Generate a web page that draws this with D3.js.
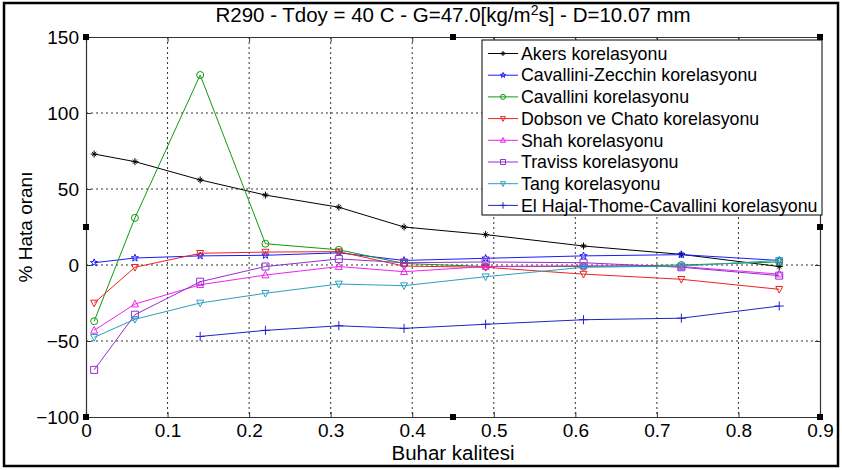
<!DOCTYPE html>
<html>
<head>
<meta charset="utf-8">
<script src="https://cdn.jsdelivr.net/npm/d3@7"></script>
<style>
  body { margin: 0; background: #fff; }
  text { font-family: "Liberation Sans", Arial, sans-serif; fill: #000; }
</style>
</head>
<body>
<svg id="chart" width="842" height="470"></svg>
<script>
// data
var quality = [0.01, 0.06, 0.14, 0.22, 0.31, 0.39, 0.49, 0.61, 0.73, 0.85];
var akers = [73, 68, 56, 46, 38, 25, 20, 12.5, 7, -1];
var cavZecchin = [1.5, 4.6, 6, 6.4, 8, 3, 4.4, 6, 6.8, 3];
var cavallini = [-37, 31, 125, 14, 10, 1, -1, -1, 0, 2];
var dobsonChato = [-25, -1.5, 7.7, 8.5, 8.8, -0.7, -1.5, -6, -9.4, -16];
var shah = [-43, -25.7, -13, -6.6, -1, -4.4, -1, -0.5, -1, -6];
var traviss = [-69, -32.7, -11, -1, 4, 1.5, 2, 1.5, -1.5, -7];
var tang = [-47.6, -35.7, -25, -18.6, -12.5, -13.6, -7.7, -1.5, -0.7, 3];
var elHajal = [null, null, -47, -43, -40, -41.7, -39, -36, -35, -27];

var xTicks = [0, 0.1, 0.2, 0.3, 0.4, 0.5, 0.6, 0.7, 0.8, 0.9];
var yTicks = [-100, -50, 0, 50, 100, 150];

var series = [
  {name: 'Akers korelasyonu', values: akers, color: '#000000', marker: 'plus'},
  {name: 'Cavallini-Zecchin korelasyonu', values: cavZecchin, color: '#1a1aff', marker: 'star'},
  {name: 'Cavallini korelasyonu', values: cavallini, color: '#119911', marker: 'circle'},
  {name: 'Dobson ve Chato korelasyonu', values: dobsonChato, color: '#ee2222', marker: 'tridown'},
  {name: 'Shah korelasyonu', values: shah, color: '#ee22ee', marker: 'triup'},
  {name: 'Traviss korelasyonu', values: traviss, color: '#9030d0', marker: 'square'},
  {name: 'Tang korelasyonu', values: tang, color: '#2a9fc0', marker: 'tridown'},
  {name: 'El Hajal-Thome-Cavallini korelasyonu', values: elHajal, color: '#2222cc', marker: 'bigplus'}
];

var margin = {top: 37, right: 22, bottom: 53, left: 86},
  width = 842 - margin.left - margin.right,
  height = 470 - margin.top - margin.bottom;

var svg = d3.select('#chart');

// figure frame
svg.append('rect')
  .attr('x', 4).attr('y', 3).attr('width', 834).attr('height', 463)
  .attr('fill', 'none').attr('stroke', '#000').attr('stroke-width', 2.5);

var x = d3.scaleLinear().domain([0, 0.9]).range([0, width]);
var y = d3.scaleLinear().domain([-100, 150]).range([height, 0]);

var g = svg.append('g')
  .attr('transform', 'translate(' + margin.left + ',' + margin.top + ')');

// dotted grid
g.append('g').selectAll('line')
  .data(xTicks.slice(1, -1))
  .enter().append('line')
  .attr('x1', d => x(d)).attr('x2', d => x(d))
  .attr('y1', 0).attr('y2', height)
  .attr('stroke', '#333').attr('stroke-dasharray', '2,3');
g.append('g').selectAll('line')
  .data(yTicks.slice(1, -1))
  .enter().append('line')
  .attr('x1', 0).attr('x2', width)
  .attr('y1', d => y(d)).attr('y2', d => y(d))
  .attr('stroke', '#333').attr('stroke-dasharray', '2,3');

// axes (ticks inside, like matlab)
var xAxis = g.append('g')
  .attr('transform', 'translate(0,' + height + ')')
  .call(d3.axisBottom(x).tickValues(xTicks).tickSize(-5).tickPadding(9).tickFormat(d3.format('')));
var xTop = g.append('g')
  .call(d3.axisTop(x).tickValues(xTicks).tickSize(-5).tickFormat(''));
var yAxis = g.append('g')
  .call(d3.axisLeft(y).tickValues(yTicks).tickSize(-5).tickPadding(7));
var yRight = g.append('g')
  .attr('transform', 'translate(' + width + ',0)')
  .call(d3.axisRight(y).tickValues(yTicks).tickSize(-5).tickFormat(''));

[xAxis, xTop, yAxis, yRight].forEach(function(a) {
  a.select('.domain').attr('stroke', '#333').attr('stroke-width', 1.2);
  a.selectAll('.tick line').attr('stroke', '#333');
  a.selectAll('text').style('font-size', '19px').attr('fill', '#000');
});
xAxis.selectAll('text').attr('dy', '0.6em');

// marker shapes
function markerPath(type, s) {
  var r = s;
  switch (type) {
    case 'plus':
      return 'M' + (-r) + ',0H' + r + 'M0,' + (-r) + 'V' + r +
        'M' + (-r * 0.6) + ',' + (-r * 0.6) + 'L' + (r * 0.6) + ',' + (r * 0.6) +
        'M' + (-r * 0.6) + ',' + (r * 0.6) + 'L' + (r * 0.6) + ',' + (-r * 0.6);
    case 'bigplus':
      return 'M' + (-r * 1.3) + ',0H' + (r * 1.3) + 'M0,' + (-r * 1.3) + 'V' + (r * 1.3);
    case 'circle':
      return d3.symbol(d3.symbolCircle, Math.PI * r * r)();
    case 'square':
      return 'M' + (-r) + ',' + (-r) + 'H' + r + 'V' + r + 'H' + (-r) + 'Z';
    case 'triup':
      return 'M0,' + (-r * 1.1) + 'L' + r + ',' + (r * 0.8) + 'H' + (-r) + 'Z';
    case 'tridown':
      return 'M0,' + (r * 1.1) + 'L' + r + ',' + (-r * 0.8) + 'H' + (-r) + 'Z';
    case 'star':
      var pts = [];
      for (var i = 0; i < 10; i++) {
        var rr = i % 2 ? r * 0.45 : r * 1.1;
        var a = -Math.PI / 2 + i * Math.PI / 5;
        pts.push([rr * Math.cos(a), rr * Math.sin(a)]);
      }
      return 'M' + pts.join('L') + 'Z';
  }
}

var line = d3.line()
  .defined(d => d[1] != null)
  .x(d => x(d[0]))
  .y(d => y(d[1]));

series.forEach(function(s) {
  var pts = quality.map((q, i) => [q, s.values[i]]);
  g.append('path')
    .datum(pts)
    .attr('d', line)
    .attr('fill', 'none')
    .attr('stroke', s.color)
    .attr('stroke-width', 1);
  g.append('g').selectAll('path')
    .data(pts.filter(d => d[1] != null))
    .enter().append('path')
    .attr('transform', d => 'translate(' + x(d[0]) + ',' + y(d[1]) + ')')
    .attr('d', markerPath(s.marker, 3.5))
    .attr('fill', 'none')
    .attr('stroke', s.color)
    .attr('stroke-width', 1);
});

// selection handles (figure was selected)
var handles = [[0, 150], [0.45, 150], [0.9, 150], [0, 25], [0.9, 25], [0, -100], [0.45, -100], [0.9, -100]];
g.append('g').selectAll('rect')
  .data(handles)
  .enter().append('rect')
  .attr('x', d => x(d[0]) - 3).attr('y', d => y(d[1]) - 3)
  .attr('width', 6).attr('height', 6)
  .attr('fill', '#000');

// legend
var legend = svg.append('g').attr('transform', 'translate(482,40)');
legend.append('rect')
  .attr('width', 340).attr('height', 175)
  .attr('fill', '#fff').attr('stroke', '#000');
var rows = legend.selectAll('.row')
  .data(series)
  .enter().append('g')
  .attr('transform', (d, i) => 'translate(0,' + (13.5 + i * 21.7) + ')');
rows.append('line')
  .attr('x1', 6).attr('x2', 36)
  .attr('stroke', d => d.color);
rows.append('path')
  .attr('transform', 'translate(21,0)')
  .attr('d', d => markerPath(d.marker, 2.5))
  .attr('fill', 'none')
  .attr('stroke', d => d.color);
rows.append('text')
  .attr('x', 39).attr('dy', '0.35em')
  .style('font-size', '17.8px')
  .text(d => d.name);

// title and axis labels
var title = svg.append('text')
  .attr('x', 453).attr('y', 22)
  .attr('text-anchor', 'middle')
  .style('font-size', '20.5px');
title.append('tspan').text('R290 - Tdoy = 40 C - G=47.0[kg/m');
title.append('tspan').attr('dy', -7).style('font-size', '14px').text('2');
title.append('tspan').attr('dy', 7).text('s] - D=10.07 mm');

svg.append('text')
  .attr('x', 453).attr('y', 460)
  .attr('text-anchor', 'middle')
  .style('font-size', '20.5px')
  .text('Buhar kalitesi');

svg.append('text')
  .attr('transform', 'translate(32,227) rotate(-90)')
  .attr('text-anchor', 'middle')
  .style('font-size', '19px')
  .text('% Hata oranı');
</script>
</body>
</html>
